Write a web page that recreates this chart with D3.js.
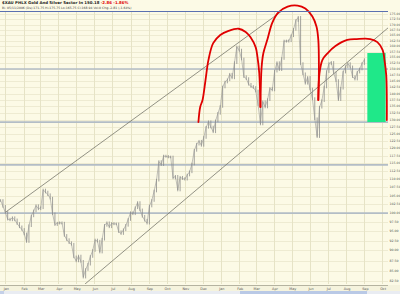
<!DOCTYPE html>
<html>
<head>
<meta charset="utf-8">
<script src="https://cdn.jsdelivr.net/npm/d3@7"></script>
<style>
body { margin: 0; background: #fcfae6; }
svg { display: block; font-family: "DejaVu Sans", Verdana, sans-serif; }
</style>
</head>
<body>
<div id="chart"></div>
<script>
// $XAU closes, one every 4 days starting 24 Dec 2004
var firstDate = new Date(2004, 11, 24);
var stepDays = 4;
var closes = [
  103.6, 101.9, 100.2, 98.3, 98.1, 98.7, 98.1, 97.1, 96.2, 95.5,
  94.3, 92.3, 96.5, 99.2, 100.6, 102.1, 101.2, 101.5, 106.7, 106.1,
  105.3, 104.3, 99.8, 96.8, 97.2, 97.3, 97.2, 93.9, 92.8, 92.0,
  91.6, 88.4, 87.4, 88.6, 87.3, 83.5, 85.3, 86.6, 88.5, 90.0,
  92.7, 92.4, 89.6, 92.9, 96.6, 97.3, 96.2, 97.1, 97.0, 97.0,
  94.9, 94.4, 95.4, 96.6, 98.2, 100.1, 99.8, 101.5, 103.0, 100.9,
  99.1, 98.0, 97.2, 102.0, 103.6, 106.4, 109.7, 115.6, 114.6, 117.4,
  117.3, 117.1, 117.1, 110.4, 110.9, 106.7, 110.6, 110.2, 110.0, 111.3,
  112.3, 114.8, 119.3, 121.4, 122.4, 121.0, 123.7, 127.3, 129.3, 127.4,
  125.7, 129.6, 132.4, 135.0, 142.6, 144.6, 145.5, 147.8, 146.3, 152.7,
  159.6, 158.2, 154.3, 146.8, 146.0, 143.7, 142.8, 142.4, 141.0, 135.7,
  128.5, 136.8, 134.8, 137.6, 142.0, 141.4, 149.1, 152.7, 149.7, 154.5,
  162.3, 162.2, 162.4, 164.7, 167.7, 171.9, 173.5, 152.3, 148.0, 144.1,
  146.5, 141.8, 138.0, 130.4, 124.0, 134.7, 137.2, 142.6, 148.9, 152.3,
  152.8, 148.4, 145.2, 137.6, 142.1, 148.7, 151.0, 152.3, 150.9, 146.8,
  145.8, 148.7, 150.0, 152.3, 154.0
];

// drawn-in annotations
var upperChannel = [["2005-01-01", 100.2], ["2006-04-14", 176.5]];
var lowerChannel = [["2005-05-16", 81.9], ["2006-10-11", 168.4]];
var levelLines = [150, 129.2, 114.5, 100];
var boxDates = ["2006-09-06", "2006-10-07"];
var boxPrices = [129.2, 156.9];

var arc1 = [["2005-11-24", 129.2], ["2005-11-27", 134.8], ["2005-12-01", 137.5], ["2005-12-06", 145.4],
  ["2005-12-11", 153.9], ["2005-12-19", 161.3], ["2005-12-31", 165.1], ["2006-01-14", 167.0],
  ["2006-01-31", 168.0], ["2006-02-12", 166.5], ["2006-02-20", 164.1], ["2006-03-01", 159.4],
  ["2006-03-04", 155.1], ["2006-03-07", 148.3], ["2006-03-09", 134.8]];
var arc2 = [["2006-03-09", 134.8], ["2006-03-11", 150.8], ["2006-03-14", 156.9], ["2006-03-21", 163.2],
  ["2006-03-29", 170.8], ["2006-04-08", 175.8], ["2006-04-24", 178.8], ["2006-05-11", 179.3],
  ["2006-05-24", 177.8], ["2006-06-05", 173.9], ["2006-06-12", 168.9], ["2006-06-15", 162.8],
  ["2006-06-16", 150.8], ["2006-06-15", 137.5]];
var arc3 = [["2006-06-15", 137.5], ["2006-06-17", 148.3], ["2006-06-22", 153.9], ["2006-07-01", 156.9],
  ["2006-07-14", 160.0], ["2006-08-03", 162.8], ["2006-08-19", 163.2], ["2006-09-11", 163.2],
  ["2006-09-23", 161.8], ["2006-10-02", 158.2], ["2006-10-05", 153.9], ["2006-10-08", 147.5],
  ["2006-10-09", 137.5], ["2006-10-09", 129.9]];

var priceTicks = d3.range(82.5, 175.01, 2.5);

var width = 400, height = 294;
var plotW = 388, plotTop = 11, plotBottom = 284;

var parse = d3.timeParse("%Y-%m-%d");
var x = d3.scaleTime()
    .domain([new Date(2004, 11, 23), new Date(2006, 9, 11)])
    .range([0, plotW]);
var y = d3.scaleLog()
    .domain([81.9, 176.6])
    .range([plotBottom, plotTop]);

var svg = d3.select("#chart").append("svg")
    .attr("width", width)
    .attr("height", height);

svg.append("rect").attr("width", width).attr("height", height).attr("fill", "#fcfae6");

svg.append("clipPath").attr("id", "plotclip")
  .append("rect").attr("x", 0).attr("y", plotTop).attr("width", plotW).attr("height", plotBottom - plotTop);

// faint grid
svg.append("g").selectAll("line")
    .data(priceTicks)
    .join("line")
    .attr("x1", 0).attr("x2", plotW)
    .attr("y1", function (d) { return Math.round(y(d)) + 0.5; })
    .attr("y2", function (d) { return Math.round(y(d)) + 0.5; })
    .attr("stroke", "#eeebd2")
    .attr("stroke-width", 1);

var months = d3.timeMonth.range(new Date(2005, 0, 1), new Date(2006, 9, 11));
svg.append("g").selectAll("line")
    .data(months)
    .join("line")
    .attr("x1", function (d) { return Math.round(x(d)) + 0.5; })
    .attr("x2", function (d) { return Math.round(x(d)) + 0.5; })
    .attr("y1", plotTop).attr("y2", plotBottom)
    .attr("stroke", "#e6e3c6")
    .attr("stroke-width", 1);

// horizontal level lines
svg.append("g").selectAll("line")
    .data(levelLines)
    .join("line")
    .attr("x1", 0).attr("x2", plotW)
    .attr("y1", function (d) { return y(d); })
    .attr("y2", function (d) { return y(d); })
    .attr("stroke", "#b3bdc6")
    .attr("stroke-width", 1.7);

// green zone
svg.append("rect")
    .attr("x", x(parse(boxDates[0])))
    .attr("width", x(parse(boxDates[1])) - x(parse(boxDates[0])))
    .attr("y", y(boxPrices[1]))
    .attr("height", y(boxPrices[0]) - y(boxPrices[1]))
    .attr("fill", "#1fe889");

var plot = svg.append("g").attr("clip-path", "url(#plotclip)");

// channel lines
[upperChannel, lowerChannel].forEach(function (seg) {
  plot.append("line")
      .attr("x1", x(parse(seg[0][0]))).attr("y1", y(seg[0][1]))
      .attr("x2", x(parse(seg[1][0]))).attr("y2", y(seg[1][1]))
      .attr("stroke", "#77776c")
      .attr("stroke-width", 0.8);
});

// price bars
var pts = closes.map(function (c, i) {
  return { date: d3.timeDay.offset(firstDate, i * stepDays), close: c, prev: i ? closes[i - 1] : c };
});

plot.append("g").selectAll("line")
    .data(pts)
    .join("line")
    .attr("x1", function (d) { return x(d.date); })
    .attr("x2", function (d) { return x(d.date); })
    .attr("y1", function (d) { return Math.min(y(d.close), y(d.prev)) - 1.3; })
    .attr("y2", function (d) { return Math.max(y(d.close), y(d.prev)) + 1.3; })
    .attr("stroke", "#858585")
    .attr("stroke-width", 0.75);

plot.append("path")
    .datum(pts)
    .attr("fill", "none")
    .attr("stroke", "#909090")
    .attr("stroke-width", 0.55)
    .attr("d", d3.line().x(function (d) { return x(d.date); }).y(function (d) { return y(d.close); }));

// red arcs
var arcLine = d3.line()
    .x(function (d) { return x(parse(d[0])); })
    .y(function (d) { return y(d[1]); })
    .curve(d3.curveCatmullRom.alpha(0.5));

svg.append("g").selectAll("path")
    .data([arc1, arc2, arc3])
    .join("path")
    .attr("d", arcLine)
    .attr("fill", "none")
    .attr("stroke", "#e00000")
    .attr("stroke-width", 1.8)
    .attr("stroke-linecap", "round");

// top border
svg.append("line")
    .attr("x1", 0).attr("x2", plotW)
    .attr("y1", plotTop + 0.5).attr("y2", plotTop + 0.5)
    .attr("stroke", "#5b70b0")
    .attr("stroke-width", 1);

// right price axis
svg.append("g").selectAll("text")
    .data(priceTicks)
    .join("text")
    .attr("x", 389.5)
    .attr("y", function (d) { return y(d) + 1; })
    .attr("font-size", 3.2)
    .attr("fill", "#555")
    .text(function (d) { return d.toFixed(2); });

// bottom axis band
svg.append("rect").attr("x", 0).attr("y", plotBottom + 1).attr("width", width).attr("height", 6).attr("fill", "#f5f3dd");
svg.append("line")
    .attr("x1", 0).attr("x2", plotW)
    .attr("y1", plotBottom + 1.5).attr("y2", plotBottom + 1.5)
    .attr("stroke", "#b5b3a0")
    .attr("stroke-width", 1);

svg.append("g").selectAll("text")
    .data(months)
    .join("text")
    .attr("x", function (d) { return x(d) + 1; })
    .attr("y", plotBottom + 5.6)
    .attr("text-anchor", "middle")
    .attr("font-size", 3.4)
    .attr("fill", "#555")
    .text(d3.timeFormat("%b"));

// scroll strip
svg.append("rect").attr("x", 0).attr("y", 291).attr("width", width).attr("height", 3).attr("fill", "#e9ecf2");
svg.append("rect").attr("x", 240).attr("y", 291).attr("width", 127).attr("height", 3).attr("fill", "#b9c9e6");
svg.append("rect").attr("x", 0).attr("y", 291).attr("width", 4).attr("height", 3).attr("fill", "#c4d0e8");

// header
var title = svg.append("text")
    .attr("x", 2)
    .attr("y", 4.3)
    .attr("font-size", 3.9)
    .attr("font-weight", "bold")
    .attr("fill", "#222");
title.append("tspan").text("$XAU PHLX Gold And Silver Sector In   150.18 ");
title.append("tspan").attr("fill", "#e00000").text("  -2.86    -1.86%");

svg.append("text")
    .attr("x", 2)
    .attr("y", 8.6)
    .attr("font-size", 3.1)
    .attr("fill", "#444")
    .text("Bi: 05/11/2006 (Ds):171.75  Hi:175.75  Lo:165.75  Cl:168.94  Vol:0  Chg:-2.81 (-1.64%)");
</script>
</body>
</html>
